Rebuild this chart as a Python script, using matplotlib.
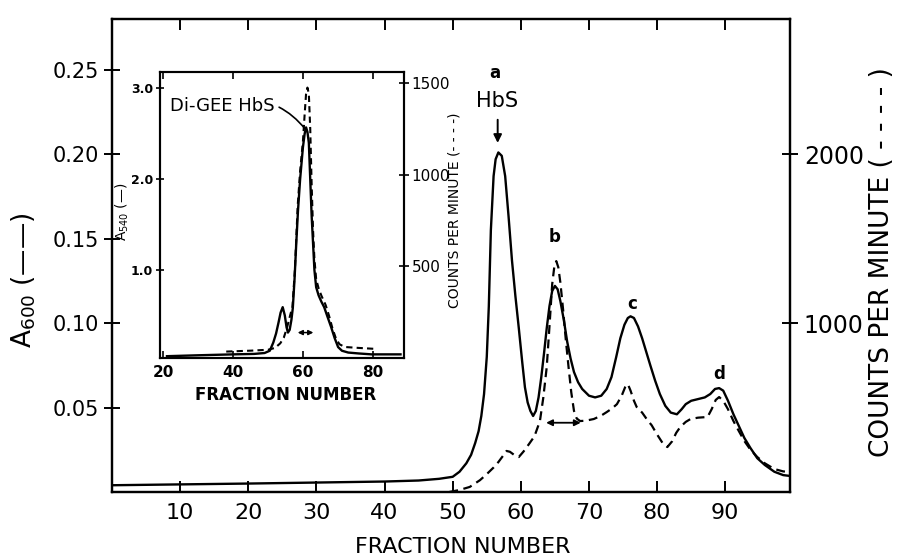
import matplotlib
matplotlib.use('Agg')
import matplotlib.pyplot as plt

plt.rcParams['font.family'] = ['DejaVu Sans']

# ---------------- data ----------------
# main panel: A600 (solid, left axis)
main_frac_a600 = [0, 20, 40, 45, 48, 50, 51, 52, 52.7, 53.3, 53.8, 54.2, 54.6, 55.0, 55.3,
                  55.6, 56.0, 56.3, 56.7, 57.2, 57.7, 58.2, 58.7, 59.2, 59.7, 60.2, 60.6,
                  61.0, 61.4, 61.8, 62.2, 62.6, 63.0, 63.4, 63.8, 64.2, 64.6, 65.0, 65.4,
                  65.8, 66.3, 66.8, 67.3, 67.8, 68.4, 69.0, 70.0, 70.9, 71.8, 72.6, 73.3,
                  74.0, 74.6, 75.2, 75.7, 76.1, 76.6, 77.2, 77.8, 78.4, 79.0, 79.7, 80.4,
                  81.2, 82.0, 82.9, 83.6, 84.2, 85.0, 86.0, 87.0, 87.8, 88.5, 89.1, 89.7,
                  90.4, 91.2, 92.0, 92.8, 93.7, 94.7, 95.8, 97.2, 98.5, 99.5]
main_a600 = [0.004, 0.005, 0.0062, 0.0068, 0.0078, 0.009, 0.012, 0.017, 0.022, 0.029, 0.036,
             0.045, 0.058, 0.080, 0.110, 0.155, 0.187, 0.197, 0.201, 0.199, 0.187, 0.163,
             0.137, 0.116, 0.097, 0.077, 0.062, 0.053, 0.048, 0.045, 0.048, 0.056, 0.068,
             0.082, 0.097, 0.110, 0.119, 0.122, 0.120, 0.113, 0.102, 0.089, 0.079, 0.071,
             0.065, 0.061, 0.057, 0.056, 0.057, 0.061, 0.068, 0.080, 0.091, 0.099, 0.103,
             0.104, 0.103, 0.098, 0.091, 0.083, 0.075, 0.066, 0.058, 0.051, 0.047, 0.046,
             0.049, 0.052, 0.054, 0.055, 0.056, 0.058, 0.061, 0.0615, 0.060, 0.054, 0.046,
             0.039, 0.032, 0.026, 0.020, 0.016, 0.012, 0.010, 0.0095]

# main panel: counts per minute (dashed, right axis)
main_frac_cpm = [49.5, 51, 52.5, 54, 55, 56, 56.7, 57.4, 57.9, 58.4, 59, 59.7, 60.4, 61.2,
                 62, 62.8, 63.3, 63.8, 64.2, 64.6, 64.9, 65.2, 65.5, 65.8, 66.2, 66.6, 67,
                 67.4, 67.8, 68.2, 68.7, 69.5, 70.7, 71.7, 72.6, 73.4, 74.1, 74.8, 75.3,
                 75.7, 76.1, 76.6, 77, 77.8, 78.5, 79.2, 80, 80.8, 81.5, 82.2, 82.8, 83.4,
                 84.2, 84.9, 86, 87.4, 88, 88.6, 89.1, 89.7, 90.4, 91.2, 92, 92.8, 93.7,
                 94.7, 95.8, 97.2, 98.5, 99.5]
main_cpm = [0, 12, 30, 70, 106, 145, 177, 215, 243, 238, 220, 207, 240, 284, 330, 420, 560,
            740, 980, 1230, 1330, 1367, 1330, 1240, 1080, 900, 740, 590, 480, 435, 420,
            422, 432, 450, 473, 495, 520, 570, 620, 639, 600, 540, 503, 470, 430, 395, 340,
            290, 266, 300, 350, 385, 415, 432, 440, 444, 490, 545, 562, 540, 490, 420, 360,
            302, 250, 207, 170, 136, 122, 118]

main_xticks = [10, 20, 30, 40, 50, 60, 70, 80, 90]
main_yticks_left = [0.05, 0.10, 0.15, 0.20, 0.25]
main_yticklabels_left = ['0.05', '0.10', '0.15', '0.20', '0.25']
main_yticks_right = [1000, 2000]

# inset: A540 (solid, left axis)
inset_frac_a540 = [21, 30, 40, 46, 49, 50.5, 51.5, 52.3, 53, 53.6, 54.2, 54.8, 55.3, 55.7,
                   56.2, 56.7, 57.1, 57.6, 58.1, 58.6, 59.2, 60, 60.5, 60.9, 61.3, 61.7,
                   62.1, 62.5, 62.9, 63.3, 63.8, 64.5, 65.3, 66.1, 67, 68.1, 69.1, 70.1,
                   71.2, 73, 76, 79.7, 88]
inset_a540 = [0.05, 0.06, 0.07, 0.075, 0.085, 0.11, 0.2, 0.3, 0.42, 0.53, 0.59, 0.5, 0.37,
              0.31, 0.34, 0.45, 0.58, 0.9, 1.3, 1.66, 2.0, 2.35, 2.5, 2.57, 2.52, 2.40, 2.0,
              1.6, 1.30, 1.0, 0.81, 0.72, 0.65, 0.59, 0.49, 0.37, 0.25, 0.15, 0.11, 0.09,
              0.08, 0.07, 0.07]

# inset: counts per minute (dashed, right axis)
inset_frac_cpm = [38, 45, 50, 52, 53.5, 54.5, 55.5, 56.3, 57, 57.7, 58.5, 59.2, 60, 60.5,
                  60.9, 61.3, 61.7, 62.1, 62.5, 62.9, 63.3, 63.8, 64.5, 65.3, 66.5, 67.5,
                  68.5, 69.5, 70.5, 72, 76, 80.5]
inset_cpm = [35, 40, 45, 55, 80, 110, 170, 230, 280, 480, 830, 1020, 1180, 1330, 1440,
             1475, 1440, 1250, 950, 700, 540, 430, 380, 340, 290, 230, 160, 105, 75, 60,
             55, 50]

inset_xticks = [20, 40, 60, 80]
inset_yticks_left = [1.0, 2.0, 3.0]
inset_yticks_right = [500, 1000, 1500]

peak_labels = ['a', 'b', 'c', 'd']

# ---------------- figure ----------------
W, H = 909, 558
fig = plt.figure(figsize=(W / 100, H / 100), dpi=100)

ax = fig.add_axes([112 / W, 66 / H, (790 - 112) / W, (539 - 66) / H])
ax2 = ax.twinx()

ax.plot(main_frac_a600, main_a600, color='black', lw=1.7, solid_joinstyle='round')
ax2.plot(main_frac_cpm, main_cpm, color='black', lw=1.6, linestyle=(0, (4, 2.5)))

ax.set_xlim(0, 99.5)
ax.set_ylim(0, 0.28)
ax2.set_ylim(0, 2800)

ax.set_xticks(main_xticks)
ax.set_xticklabels([str(v) for v in main_xticks], fontsize=16)
ax.set_yticks(main_yticks_left)
ax.set_yticklabels(main_yticklabels_left, fontsize=15)
ax2.set_yticks(main_yticks_right)
ax2.set_yticklabels([str(v) for v in main_yticks_right], fontsize=17)

ax.tick_params(axis='x', direction='in', length=8, width=1.4, top=True, pad=8)
ax.tick_params(axis='y', direction='inout', length=12, width=1.4, pad=3)
ax2.tick_params(axis='y', direction='inout', length=12, width=1.4, pad=4)
for a in (ax, ax2):
    for s in a.spines.values():
        s.set_linewidth(1.6)

fig.text(463 / W, 1 - 547 / H, 'FRACTION NUMBER', fontsize=16, ha='center', va='center')
fig.text(24 / W, 1 - 280 / H, r'A$_{600}$ (——)', fontsize=19, rotation=90,
         ha='center', va='center')
fig.text(882 / W, 1 - 262 / H, 'COUNTS PER MINUTE ( - - - - )', fontsize=19, rotation=90,
         ha='center', va='center')

# peak labels / annotations
ax.text(56.2, 0.248, peak_labels[0], fontsize=12, fontweight='bold', ha='center', va='center')
ax.text(56.5, 0.2315, 'HbS', fontsize=15, ha='center', va='center')
ax.annotate('', xy=(56.6, 0.205), xytext=(56.6, 0.222),
            arrowprops=dict(arrowstyle='-|>', color='black', lw=1.4, mutation_scale=12))
ax.text(65.0, 0.151, peak_labels[1], fontsize=12, fontweight='bold', ha='center', va='center')
ax.text(76.3, 0.111, peak_labels[2], fontsize=12, fontweight='bold', ha='center', va='center')
ax.text(89.1, 0.0696, peak_labels[3], fontsize=12, fontweight='bold', ha='center', va='center')
ax.annotate('', xy=(63.3, 0.041), xytext=(69.2, 0.041),
            arrowprops=dict(arrowstyle='<|-|>', color='black', lw=1.3, mutation_scale=9))

# ---------------- inset ----------------
iax = fig.add_axes([160 / W, 1 - 358 / H, (404 - 160) / W, (358 - 72) / H])
iax.set_facecolor('white')
iax2 = iax.twinx()

iax.plot(inset_frac_a540, inset_a540, color='black', lw=1.7)
iax2.plot(inset_frac_cpm, inset_cpm, color='black', lw=1.5, linestyle=(0, (3, 2)))

iax.set_xlim(19, 89)
iax.set_ylim(0.03, 3.18)
iax2.set_ylim(0, 1560)

iax.set_xticks(inset_xticks)
iax.set_xticklabels([str(v) for v in inset_xticks], fontsize=11, fontweight='bold')
iax.set_yticks(inset_yticks_left)
iax.set_yticklabels(['%.1f' % v for v in inset_yticks_left], fontsize=9, fontweight='bold')
iax2.set_yticks(inset_yticks_right)
iax2.set_yticklabels([str(v) for v in inset_yticks_right], fontsize=11)

iax.tick_params(axis='x', direction='in', length=5, width=1.2, top=True, pad=5)
iax.tick_params(axis='y', direction='inout', length=6, width=1.2, pad=2)
iax2.tick_params(axis='y', direction='inout', length=7, width=1.2, pad=2)
for a in (iax, iax2):
    for s in a.spines.values():
        s.set_linewidth(1.5)

fig.text(286 / W, 1 - 395 / H, 'FRACTION NUMBER', fontsize=12, fontweight='bold',
         ha='center', va='center')
fig.text(122 / W, 1 - 212 / H, r'A$_{540}$ (—)', fontsize=10, rotation=90,
         ha='center', va='center')
fig.text(454 / W, 1 - 210 / H, 'COUNTS PER MINUTE (- - - -)', fontsize=10, rotation=90,
         ha='center', va='center')

iax.annotate('Di-GEE HbS', xy=(60.7, 2.55), xytext=(22, 2.81), fontsize=13,
             ha='left', va='center',
             arrowprops=dict(arrowstyle='-', color='black', lw=1.2,
                             connectionstyle='arc3,rad=-0.35', shrinkA=1, shrinkB=0))
iax.annotate('', xy=(57.7, 0.31), xytext=(63.8, 0.31),
             arrowprops=dict(arrowstyle='<|-|>', color='black', lw=1.1, mutation_scale=7))

fig.savefig('out.png', dpi=100, facecolor='white')
